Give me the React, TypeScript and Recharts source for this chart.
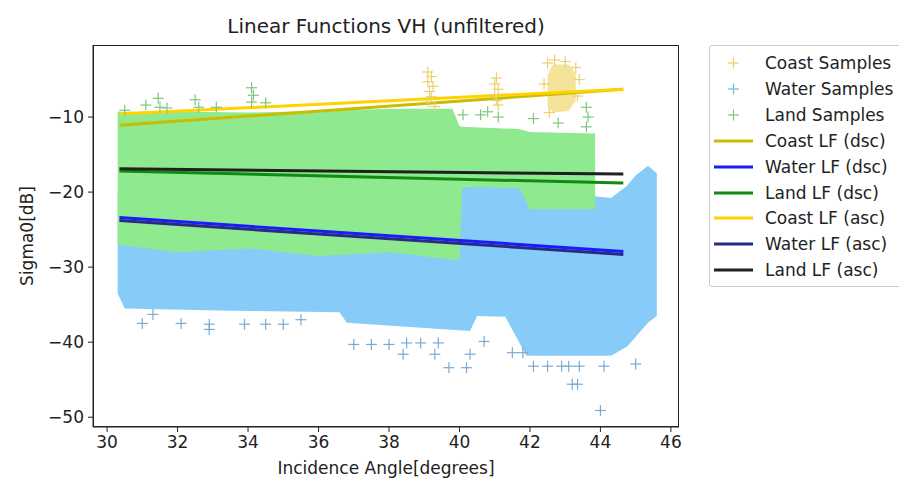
import React from 'react';
import { ComposedChart, Area, Line, Scatter, XAxis, YAxis } from 'recharts';

// ── axes ────────────────────────────────────────────
const X_DOMAIN = [29.6, 46.23];
const Y_DOMAIN = [-51.3, -0.4];
const X_TICKS = [30, 32, 34, 36, 38, 40, 42, 44, 46];
const Y_TICKS = [-50, -40, -30, -20, -10];

// ── sample clouds (envelopes) ──
const waterBand = [
    { x: 30.3, range: [-33.5, -20.0] },
    { x: 30.5, range: [-35.5, -20.0] },
    { x: 33.5, range: [-35.8, -20.0] },
    { x: 36.6, range: [-36.0, -20.0] },
    { x: 36.8, range: [-37.4, -20.0] },
    { x: 40.3, range: [-38.5, -19.3] },
    { x: 40.5, range: [-36.5, -19.3] },
    { x: 41.3, range: [-36.6, -19.3] },
    { x: 41.9, range: [-41.8, -19.5] },
    { x: 43.9, range: [-41.8, -20.6] },
    { x: 44.3, range: [-41.8, -20.8] },
    { x: 44.75, range: [-40.6, -19.2] },
    { x: 45.0, range: [-39.3, -17.8] },
    { x: 45.35, range: [-37.4, -16.5] },
    { x: 45.6, range: [-36.5, -17.5] },
];

const landBand = [
    { x: 30.3, range: [-27.0, -9.3] },
    { x: 32.0, range: [-28.0, -9.3] },
    { x: 34.0, range: [-27.5, -9.4] },
    { x: 36.0, range: [-28.5, -9.2] },
    { x: 38.0, range: [-28.0, -8.9] },
    { x: 39.8, range: [-29.0, -8.9] },
    { x: 40.0, range: [-29.0, -11.2] },
    { x: 40.08, range: [-19.3, -11.3] },
    { x: 41.7, range: [-19.5, -11.6] },
    { x: 42.0, range: [-22.3, -12.0] },
    { x: 43.85, range: [-22.3, -12.2] },
];

const coastBlob = [
    { x: 42.5, range: [-8.6, -4.4] },
    { x: 42.65, range: [-9.4, -3.0] },
    { x: 43.1, range: [-9.2, -3.0] },
    { x: 43.3, range: [-7.8, -4.2] },
];

const coastPoints = [
    { x: 39.1, y: -4.0 }, { x: 39.2, y: -4.6 }, { x: 39.1, y: -5.3 }, { x: 39.25, y: -5.9 },
    { x: 39.15, y: -6.6 }, { x: 39.2, y: -7.3 }, { x: 39.1, y: -8.0 }, { x: 39.3, y: -8.6 },
    { x: 41.05, y: -4.8 }, { x: 41.0, y: -5.6 }, { x: 41.1, y: -6.3 }, { x: 41.0, y: -7.0 },
    { x: 41.05, y: -7.8 }, { x: 41.1, y: -8.4 },
    { x: 42.5, y: -2.8 }, { x: 42.7, y: -2.4 }, { x: 43.0, y: -2.6 }, { x: 43.3, y: -3.4 },
    { x: 43.4, y: -5.0 }, { x: 42.4, y: -5.6 }, { x: 43.35, y: -7.2 }, { x: 42.55, y: -9.4 },
];

const landPoints = [
    { x: 30.5, y: -9.1 }, { x: 31.1, y: -8.4 }, { x: 31.45, y: -7.5 }, { x: 31.5, y: -8.7 },
    { x: 31.7, y: -8.8 }, { x: 32.5, y: -7.7 }, { x: 32.6, y: -8.7 }, { x: 33.1, y: -8.7 },
    { x: 34.1, y: -6.1 }, { x: 34.15, y: -7.1 }, { x: 34.1, y: -8.0 }, { x: 34.5, y: -8.1 },
    { x: 40.1, y: -9.7 }, { x: 40.6, y: -9.7 }, { x: 40.8, y: -9.3 }, { x: 41.1, y: -10.0 },
    { x: 42.1, y: -10.2 }, { x: 42.8, y: -10.8 }, { x: 43.6, y: -8.7 }, { x: 43.65, y: -10.0 },
    { x: 43.6, y: -11.3 },
];

const waterPoints = [
    { x: 31.0, y: -37.5 }, { x: 31.3, y: -36.3 }, { x: 32.1, y: -37.5 }, { x: 32.9, y: -37.6 },
    { x: 32.9, y: -38.3 }, { x: 33.9, y: -37.6 }, { x: 34.5, y: -37.6 }, { x: 35.0, y: -37.6 },
    { x: 35.5, y: -37.0 }, { x: 37.0, y: -40.3 }, { x: 37.5, y: -40.3 }, { x: 38.0, y: -40.3 },
    { x: 38.4, y: -41.6 }, { x: 38.5, y: -40.1 }, { x: 38.9, y: -40.1 }, { x: 39.3, y: -41.6 },
    { x: 39.4, y: -40.1 }, { x: 39.7, y: -43.4 }, { x: 40.2, y: -43.4 }, { x: 40.3, y: -41.6 },
    { x: 40.7, y: -39.9 }, { x: 41.5, y: -41.4 }, { x: 41.8, y: -41.4 }, { x: 42.1, y: -43.2 },
    { x: 42.5, y: -43.2 }, { x: 42.9, y: -43.2 }, { x: 43.1, y: -43.2 }, { x: 43.4, y: -43.2 },
    { x: 43.2, y: -45.6 }, { x: 43.35, y: -45.6 }, { x: 44.1, y: -43.2 }, { x: 45.0, y: -42.9 },
    { x: 44.0, y: -49.1 },
];

// ── linear functions (end points) ───────────────────
const LF_X = [30.35, 44.65];
const coastDsc = [-11.1, -6.3];
const waterDsc = [-23.4, -27.9];
const landDsc = [-17.2, -18.8];
const coastAsc = [-9.6, -6.3];
const waterAsc = [-23.8, -28.3];
const landAsc = [-16.9, -17.6];

const toLine = (ys: number[]) => ys.map((y, i) => ({ x: LF_X[i], y }));

const lineSeries = [
    { name: 'Coast LF (dsc)', values: coastDsc, color: '#c9bd00' },
    { name: 'Water LF (dsc)', values: waterDsc, color: '#1a1aff' },
    { name: 'Land LF (dsc)', values: landDsc, color: '#118a11' },
    { name: 'Coast LF (asc)', values: coastAsc, color: '#ffd200' },
    { name: 'Water LF (asc)', values: waterAsc, color: '#2a2a86' },
    { name: 'Land LF (asc)', values: landAsc, color: '#202020' },
];

const sampleLegend = [
    { name: 'Coast Samples', color: '#e8d070' },
    { name: 'Water Samples', color: '#6fb8e8' },
    { name: 'Land Samples', color: '#70d070' },
];

const FONT = '"DejaVu Sans", sans-serif';

function Plus(props: any) {
    const { cx, cy, fill } = props;
    if (cx == null || cy == null) return null;
    return (
        <g stroke={fill} strokeWidth={1.2}>
            <line x1={cx - 5.5} y1={cy} x2={cx + 5.5} y2={cy} />
            <line x1={cx} y1={cy - 5.5} x2={cx} y2={cy + 5.5} />
        </g>
    );
}

const fmtTick = (v: number) => String(v).replace('-', '\u2212');
const tickStyle = { fill: '#222', fontSize: 17, fontFamily: FONT };

function LegendBox() {
    const rows = [
        ...sampleLegend.map((s) => ({ ...s, kind: 'marker' })),
        ...lineSeries.map((s) => ({ name: s.name, color: s.color, kind: 'line' })),
    ];
    return (
        <div
            style={{
                position: 'absolute',
                left: 709,
                top: 45,
                width: 230,
                height: 240,
                border: '1px solid #cccccc',
                borderRadius: 3,
                background: '#fff',
                fontFamily: FONT,
                fontSize: 17,
                color: '#222',
            }}
        >
            {rows.map((r, i) => (
                <div
                    key={r.name}
                    style={{ position: 'absolute', left: 0, top: 4 + i * 25.9, height: 26, display: 'flex', alignItems: 'center' }}
                >
                    <svg width={50} height={26} style={{ display: 'block' }}>
                        {r.kind === 'line' ? (
                            <line x1={4} y1={13} x2={43} y2={13} stroke={r.color} strokeWidth={3} />
                        ) : (
                            <g stroke={r.color} strokeWidth={1.2}>
                                <line x1={18} y1={13} x2={29} y2={13} />
                                <line x1={23.5} y1={7.5} x2={23.5} y2={18.5} />
                            </g>
                        )}
                    </svg>
                    <span style={{ marginLeft: 5, whiteSpace: 'nowrap' }}>{r.name}</span>
                </div>
            ))}
        </div>
    );
}

export default function App() {
    return (
        <div style={{ position: 'fixed', left: 0, top: 0, width: 899, height: 481, overflow: 'hidden', background: '#fff' }}>
            <ComposedChart width={899} height={481} margin={{ top: 45, right: 220, bottom: 0, left: 0 }}>
                <XAxis
                    dataKey="x"
                    type="number"
                    domain={X_DOMAIN}
                    allowDataOverflow
                    ticks={X_TICKS}
                    height={54}
                    tick={tickStyle}
                    tickSize={5}
                    tickMargin={4}
                    stroke="#222"
                />
                <YAxis
                    type="number"
                    domain={Y_DOMAIN}
                    allowDataOverflow
                    ticks={Y_TICKS}
                    width={93}
                    tick={tickStyle}
                    tickFormatter={fmtTick}
                    tickSize={5}
                    tickMargin={4}
                    stroke="#222"
                />

                <Area data={coastBlob} dataKey="range" type="linear" fill="#f6e39a" fillOpacity={1} stroke="none" isAnimationActive={false} />
                <Scatter data={coastPoints} dataKey="y" fill="#ebd070" shape={Plus} isAnimationActive={false} />
                <Area data={waterBand} dataKey="range" type="linear" fill="#87cbf8" fillOpacity={1} stroke="none" isAnimationActive={false} />
                <Scatter data={waterPoints} dataKey="y" fill="#79aad4" shape={Plus} isAnimationActive={false} />
                <Area data={landBand} dataKey="range" type="linear" fill="#8fe98f" fillOpacity={1} stroke="none" isAnimationActive={false} />
                <Scatter data={landPoints} dataKey="y" fill="#7cc87c" shape={Plus} isAnimationActive={false} />

                {lineSeries.map((s) => (
                    <Line
                        key={s.name}
                        data={toLine(s.values)}
                        dataKey="y"
                        name={s.name}
                        type="linear"
                        stroke={s.color}
                        strokeWidth={3}
                        dot={false}
                        activeDot={false}
                        isAnimationActive={false}
                    />
                ))}
            </ComposedChart>

            {/* plot frame (top / right spines) */}
            <div
                style={{
                    position: 'absolute',
                    left: 93,
                    top: 45,
                    width: 586,
                    height: 382,
                    border: '1px solid #222',
                    boxSizing: 'border-box',
                    pointerEvents: 'none',
                }}
            />

            <div style={{ position: 'absolute', left: 93, width: 586, top: 14, textAlign: 'center', fontFamily: FONT, fontSize: 20, color: '#222' }}>
                Linear Functions VH (unfiltered)
            </div>
            <div style={{ position: 'absolute', left: 93, width: 586, top: 458, textAlign: 'center', fontFamily: FONT, fontSize: 17, color: '#222' }}>
                Incidence Angle[degrees]
            </div>
            <div
                style={{
                    position: 'absolute',
                    left: 27,
                    top: 236,
                    transform: 'translate(-50%, -50%) rotate(-90deg)',
                    fontFamily: FONT,
                    fontSize: 17,
                    color: '#222',
                    whiteSpace: 'nowrap',
                }}
            >
                Sigma0[dB]
            </div>
            <LegendBox />
        </div>
    );
}
